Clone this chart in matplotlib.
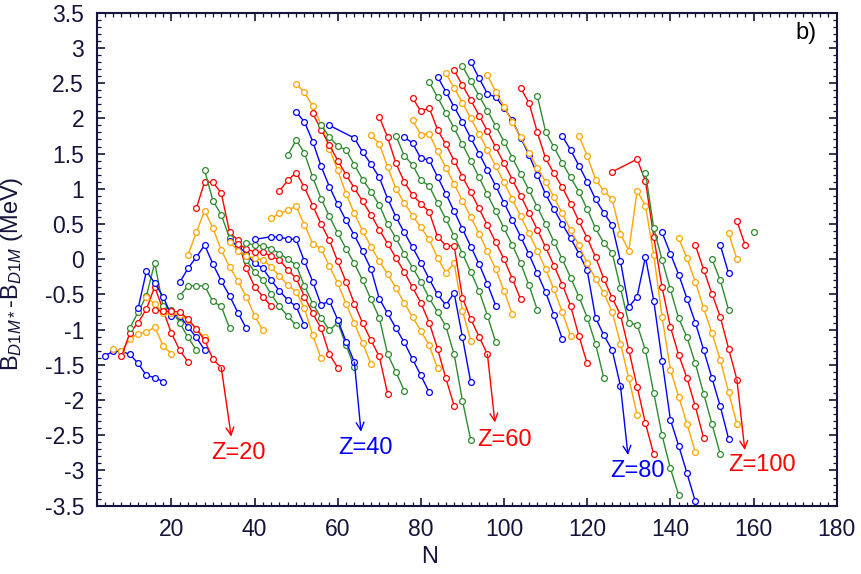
import matplotlib
matplotlib.use("Agg")
import matplotlib.pyplot as plt
from matplotlib.ticker import MultipleLocator

plt.rcParams["font.family"] = ["Liberation Sans", "DejaVu Sans"]
plt.rcParams["mathtext.fontset"] = "custom"
plt.rcParams["mathtext.rm"] = "Liberation Sans"
plt.rcParams["mathtext.it"] = "Liberation Sans:italic"

# even-Z isotope chains, N runs in steps of 2 from the first N; None = missing nucleus
z_values = [8, 10, 12, 14, 16, 18, 20, 22, 24, 26, 28, 30, 32, 34, 36, 38, 40, 42,
            44, 46, 48, 50, 52, 54, 56, 58, 60, 62, 64, 66, 68, 70, 72, 74, 76, 78,
            80, 82, 84, 86, 88, 90, 92, 94, 96, 98, 100, 102, 104, 106, 108, 110]
n_first = [4, 6, 8, 10, 12, 14, 16, 22, 22, 24, 26, 28, 34, 34, 36, 38, 40, 44,
           46, 48, 50, 50, 54, 56, 58, 68, 70, 74, 76, 78, 78, 82, 84, 86, 88, 90,
           92, 96, 104, 108, 114, 118, 126, 134, 138, 142, 146, 150, 152, 154, 156, 160]

dB_z8 = [-1.37, -1.31, -1.31, -1.35, -1.48, -1.65, -1.68, -1.74]
dB_z10 = [-1.28, -1.31, -1.13, -1.06, -1.04, -0.96, -1.23, -1.34]
dB_z12 = [-1.38, -1.05, -0.90, -0.71, -0.39, -0.72, -1.05, -1.29, -1.46]
dB_z14 = [-0.98, -0.75, -0.52, -0.05, -0.67, -0.72, -0.90, -1.11, -1.29]
dB_z16 = [-0.70, -0.17, -0.34, -0.53, -0.80, -0.80, -0.96, -1.11, -1.29]
dB_z18 = [-0.53, -0.64, -0.77, -0.77, -0.79, -0.86, -0.99, -1.11]
dB_z20 = [-0.72, -0.74, -0.74, -0.75, -0.85, -0.99, -1.15, -1.42, -1.54]
dB_z22 = [-0.52, -0.38, -0.38, -0.38, -0.60, -0.67, -0.98]
dB_z24 = [-0.33, -0.13, 0.03, 0.20, -0.07, -0.31, -0.52, -0.76, -0.98]
dB_z26 = [0.06, 0.38, 0.69, 0.44, 0.13, -0.11, -0.31, -0.53, -0.80, -1.01]
dB_z28 = [0.72, 1.10, 1.09, 0.94, 0.38, 0.27, -0.13, -0.39, -0.53, -0.67]
dB_z30 = [1.26, 0.83, 0.63, 0.30, 0.17, -0.01, -0.18, -0.30, -0.50, -0.67, -0.81, -0.94]
dB_z32 = [0.26, 0.19, 0.08, -0.06, -0.13, -0.30, -0.45, -0.58, -0.67, -0.94]
dB_z34 = [0.25, 0.12, 0.05, 0.01, -0.01, -0.11, -0.24, -0.37, -0.46, -0.70, -1.08, -1.41]
dB_z36 = [0.22, 0.15, 0.10, 0.10, 0.04, -0.01, -0.15, -0.27, -0.53, -0.77, -0.98, -1.35, -1.54]
dB_z38 = [0.23, 0.20, 0.19, 0.15, 0.08, 0.00, -0.08, -0.38, -0.63, -0.83, -1.01, -0.90, -1.22, -1.53]
dB_z40 = [0.28, None, 0.32, 0.31, 0.29, 0.28, -0.03, -0.32, -0.65, -0.59, -0.86, -1.17, -1.46]
dB_z42 = [0.58, 0.65, 0.70, 0.75, 0.49, 0.22, 0.15, -0.10, -0.34, -0.63, -0.91, -1.19, -1.49]
dB_z44 = [0.97, 1.12, 1.23, 1.02, 0.76, 0.50, 0.27, -0.03, -0.32, -0.63, -0.91, -1.15, -1.38, -1.91]
dB_z46 = [1.48, 1.69, 1.51, 1.16, 0.86, 0.61, 0.37, 0.15, -0.06, -0.30, -0.57, -0.83, -1.35,
          -1.60, -1.87]
dB_z48 = [2.09, 1.95, 1.67, 1.32, 1.03, 0.78, 0.55, 0.34, 0.11, -0.14, -0.56, -0.77, -0.98,
          -1.18, -1.42, -1.65, -1.89]
dB_z50 = [2.49, 2.37, 2.17, 1.91, 1.57, 1.26, 0.93, 0.65, 0.40, 0.18, -0.03, -0.21, -0.41,
          -0.62, -0.82, -1.02, -1.22, -1.55]
dB_z52 = [2.07, 1.84, 1.62, 1.40, 1.20, 1.01, 0.82, 0.63, 0.42, 0.22, 0.02, -0.18, -0.40,
          -0.62, -0.90, -1.27, -1.69, -2.08]
dB_z54 = [1.91, 1.73, 1.61, 1.55, 1.34, 1.13, 0.96, 0.77, 0.50, 0.30, 0.08, -0.12, -0.32,
          -0.55, -0.75, -0.95, -1.35, -2.01, -2.57]
dB_z56 = [1.90, None, None, 1.72, 1.52, 1.35, 1.16, 0.86, 0.60, 0.38, 0.17, -0.05, -0.28,
          -0.50, -0.65, -0.48, -1.11, -1.75]
dB_z58 = [1.76, 1.64, 1.31, 1.00, 0.80, 0.62, 0.45, 0.28, 0.02, -0.19, -0.06, -0.73, -1.16]
dB_z60 = [2.02, 1.73, 1.36, 1.10, 0.91, 0.79, 0.67, 0.32, 0.19, 0.19, -0.55, -0.85, -1.10, -1.35]
dB_z62 = [1.75, 1.47, 1.34, 1.12, 1.04, 0.80, 0.57, 0.33, 0.08, -0.18, -0.45, -0.80, -1.18]
dB_z64 = [1.73, 1.65, 1.43, 1.41, 1.17, 0.93, 0.68, 0.43, 0.18, -0.07, -0.35, -0.66]
dB_z66 = [1.97, 1.77, 1.78, 1.53, 1.30, 1.07, 0.83, 0.60, 0.36, 0.11, -0.14, -0.45, -0.78]
dB_z68 = [2.29, 2.10, 2.15, 1.84, 1.63, 1.40, 1.17, 0.95, 0.72, 0.48, 0.24, 0.00, -0.28, -0.57]
dB_z70 = [2.52, 2.30, 2.08, 1.86, 1.63, 1.40, 1.16, 0.92, 0.68, 0.44, 0.20, -0.06, -0.37, -0.72]
dB_z72 = [2.59, 2.38, 2.16, 1.95, 1.72, 1.50, 1.27, 1.04, 0.80, 0.56, 0.32, 0.07, -0.20,
          -0.47, -0.79, -1.13]
dB_z74 = [2.64, 2.43, 2.22, 2.00, 1.78, 1.55, 1.32, 1.09, 0.85, 0.61, 0.37, 0.12, -0.14,
          -0.43, -0.75, -1.09]
dB_z76 = [2.68, 2.47, 2.26, 2.04, 1.82, 1.59, 1.36, 1.13, 0.90, 0.66, 0.42, 0.17, -0.09,
          -0.36, -0.66, -1.09, -1.48]
dB_z78 = [2.74, 2.53, 2.32, 2.11, 1.89, 1.67, 1.44, 1.21, 0.98, 0.74, 0.50, 0.25, 0.00,
          -0.26, -0.53, -0.83, -1.20, -1.69]
dB_z80 = [2.80, 2.57, 2.35, 2.30, 2.15, 1.97, 1.72, 1.48, 1.20, 0.92, 0.71, 0.50, 0.30,
          0.08, -0.16, -0.83, -1.08, -1.29, -1.80]
dB_z82 = [2.61, 2.38, 2.16, 1.95, 1.73, 1.51, 1.30, 1.10, 0.88, 0.65, 0.41, 0.20, -0.06,
          -0.28, -0.48, -0.75, -1.20, -1.69, -2.21]
dB_z84 = [2.43, 2.22, 1.80, 1.43, 1.22, 1.02, 0.79, 0.54, 0.30, 0.03, -0.28, -0.55, -0.79,
          -1.29, -1.81, -2.33, -2.77]
dB_z86 = [2.32, 1.81, 1.59, 1.37, 1.16, 0.96, 0.71, 0.44, 0.23, 0.09, -0.41, -0.91, -0.93,
          -1.29, -1.90, -2.50, -2.97, -3.35]
dB_z88 = [1.75, 1.55, 1.33, 1.10, 0.85, 0.66, 0.48, -0.03, -0.68, -0.53, 0.03, -0.59, -1.44,
          -2.28, -2.65, -3.04, -3.44]
dB_z90 = [1.75, 1.47, 1.13, 0.97, 0.85, 0.36, 0.12, 0.97, 0.76, 0.06, -0.82, -1.57, -1.95,
          -2.34, -2.74]
dB_z92 = [1.24, None, None, 1.42, 1.11, 0.32, -0.40, -0.96, -1.36, -1.69, -2.09, -2.54]
dB_z94 = [1.23, 0.44, -0.01, -0.43, -0.84, -1.11, -1.48, -1.91, -2.34, -2.77]
dB_z96 = [0.38, 0.08, -0.22, -0.56, -0.90, -1.29, -1.69, -2.09, -2.55]
dB_z98 = [0.30, 0.01, -0.32, -0.70, -1.05, -1.43, -1.89, -2.34]
dB_z100 = [0.20, -0.15, -0.49, -0.82, -1.27, -1.71]
dB_z102 = [0.00, -0.30, -0.72]
dB_z104 = [0.20, -0.20]
dB_z106 = [0.37, 0.00]
dB_z108 = [0.54, 0.20]
dB_z110 = [0.38]

chains = [dB_z8, dB_z10, dB_z12, dB_z14, dB_z16, dB_z18, dB_z20, dB_z22, dB_z24, dB_z26,
          dB_z28, dB_z30, dB_z32, dB_z34, dB_z36, dB_z38, dB_z40, dB_z42, dB_z44, dB_z46,
          dB_z48, dB_z50, dB_z52, dB_z54, dB_z56, dB_z58, dB_z60, dB_z62, dB_z64, dB_z66,
          dB_z68, dB_z70, dB_z72, dB_z74, dB_z76, dB_z78, dB_z80, dB_z82, dB_z84, dB_z86,
          dB_z88, dB_z90, dB_z92, dB_z94, dB_z96, dB_z98, dB_z100, dB_z102, dB_z104,
          dB_z106, dB_z108, dB_z110]

# labelled chains: arrow tip and label centre
label_z = [20, 40, 60, 80, 100]
tip_n = [34.4, 65.6, 97.8, 129.8, 157.9]
tip_y = [-2.52, -2.45, -2.32, -2.78, -2.71]
text_n = [36.1, 66.6, 100.2, 132.0, 162.0]
text_y = [-2.75, -2.68, -2.57, -3.01, -2.92]

palette = ["#0000ff", "#ffa500", "#ff0000", "#2e8b2e"]
axis_col = "#14143c"


def chain_color(z):
    return palette[(z // 2) % 4]


fig = plt.figure(figsize=(8.61, 5.74), dpi=100)
ax = fig.add_axes([0.1121, 0.119, 0.8597, 0.8589])

last_point = {}
for z, n0, vals in zip(z_values, n_first, chains):
    ns = [n0 + 2 * i for i, v in enumerate(vals) if v is not None]
    ys = [v for v in vals if v is not None]
    ax.plot(ns, ys, "-o", color=chain_color(z), lw=1.0, ms=4.2, mfc="white",
            mew=0.9, zorder=2)
    last_point[z] = (ns[-1], ys[-1])

for z, tn, ty, xn, xy in zip(label_z, tip_n, tip_y, text_n, text_y):
    c = chain_color(z)
    ax.annotate("", xy=(tn, ty), xytext=last_point[z],
                arrowprops=dict(arrowstyle="->", color=c, lw=1.0, shrinkA=0, shrinkB=0,
                                mutation_scale=14))
    ax.text(xn, xy, f"Z={z}", color=c, fontsize=17, ha="center", va="center")

ax.text(172.5, 3.21, "b)", fontsize=17, ha="center", va="center", color="black")

ax.set_xlim(2, 180)
ax.set_ylim(-3.5, 3.5)
ax.xaxis.set_major_locator(MultipleLocator(20))
ax.xaxis.set_minor_locator(MultipleLocator(2))
ax.yaxis.set_major_locator(MultipleLocator(0.5))
ax.yaxis.set_minor_locator(MultipleLocator(0.1))
ax.set_xticks(range(20, 181, 20))
ax.set_yticks([-3.5, -3, -2.5, -2, -1.5, -1, -0.5, 0, 0.5, 1, 1.5, 2, 2.5, 3, 3.5])
ax.set_yticklabels(["-3.5", "-3", "-2.5", "-2", "-1.5", "-1", "-0.5", "0", "0.5", "1",
                    "1.5", "2", "2.5", "3", "3.5"])
ax.tick_params(which="both", direction="in", top=True, right=True, colors=axis_col,
               labelcolor=axis_col)
ax.tick_params(which="major", length=6, width=1.2, labelsize=16.5, pad=9)
ax.tick_params(which="minor", length=3, width=0.9)
for sp in ax.spines.values():
    sp.set_color(axis_col)
    sp.set_linewidth(1.5)

ax.set_xlabel("N", fontsize=17, color=axis_col)
ax.xaxis.set_label_coords(0.4506, -0.082)
ax.set_ylabel(r"B$_{\mathit{D1M}*}$-B$_{\mathit{D1M}}$ (MeV)", fontsize=17, color=axis_col)
ax.yaxis.set_label_coords(-0.097, 0.47)

fig.savefig("out.png", dpi=100)
